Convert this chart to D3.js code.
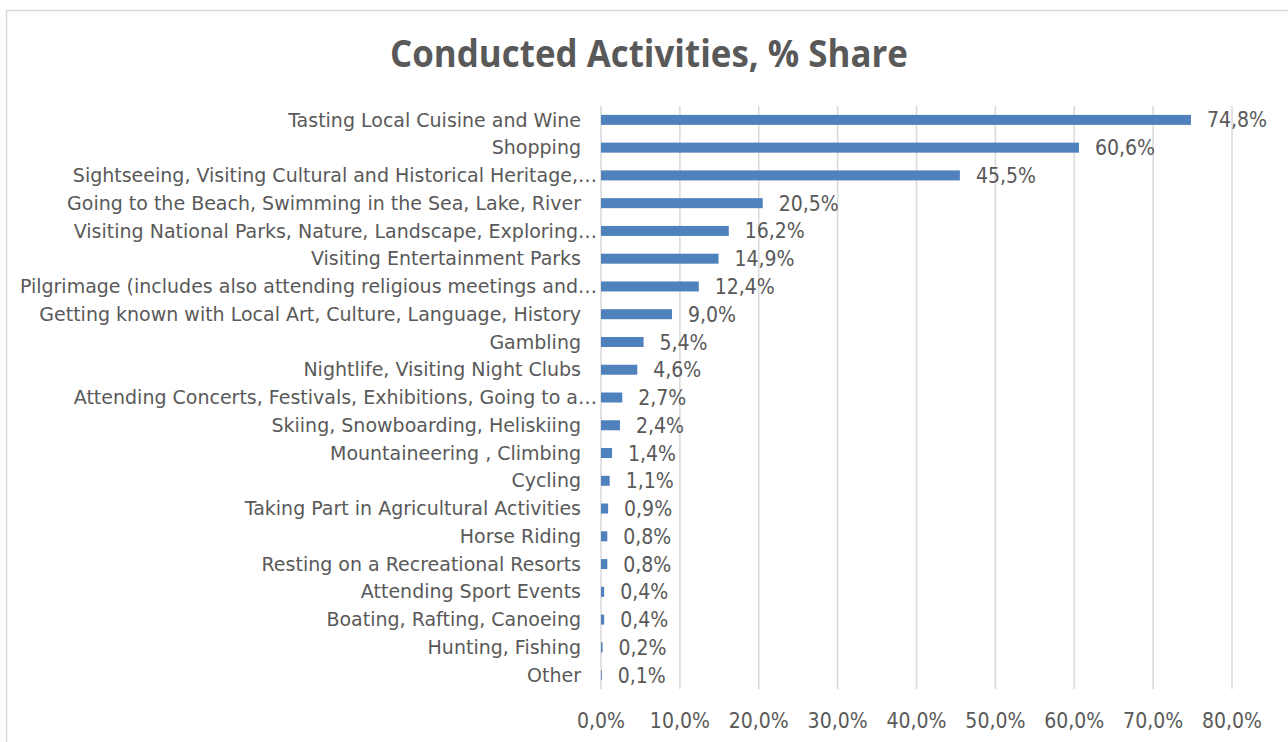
<!DOCTYPE html>
<html>
<head>
<meta charset="utf-8">
<script src="https://cdn.jsdelivr.net/npm/d3@7"></script>
<style>
  body { margin: 0; background: #fff; }
  svg text { fill: #595959; }
  .num { font-stretch: condensed; }
</style>
</head>
<body>
<div id="chart"></div>
<script>
var width = 1288, height = 742;

// data
var categories = [
  "Tasting Local Cuisine and Wine",
  "Shopping",
  "Sightseeing, Visiting Cultural and Historical Heritage,…",
  "Going to the Beach, Swimming in the Sea, Lake, River",
  "Visiting National Parks, Nature, Landscape, Exploring…",
  "Visiting Entertainment Parks",
  "Pilgrimage (includes also attending religious meetings and…",
  "Getting known with Local Art, Culture, Language, History",
  "Gambling",
  "Nightlife, Visiting Night Clubs",
  "Attending Concerts, Festivals, Exhibitions, Going to a…",
  "Skiing, Snowboarding, Heliskiing",
  "Mountaineering , Climbing",
  "Cycling",
  "Taking Part in Agricultural Activities",
  "Horse Riding",
  "Resting on a Recreational Resorts",
  "Attending Sport Events",
  "Boating, Rafting, Canoeing",
  "Hunting, Fishing",
  "Other"
];
var shares = [74.8, 60.6, 45.5, 20.5, 16.2, 14.9, 12.4, 9.0, 5.4, 4.6, 2.7, 2.4, 1.4, 1.1, 0.9, 0.8, 0.8, 0.4, 0.4, 0.2, 0.1];
var xTicks = [0, 10, 20, 30, 40, 50, 60, 70, 80];

var locale = d3.formatLocale({decimal: ",", thousands: ".", grouping: [3], currency: ["", ""]});
var fmt = locale.format(".1f");

var margin = {left: 601, right: 56, top: 106, bottom: 53};
var font = "DejaVu Sans";

var svg = d3.select("#chart").append("svg")
  .attr("width", width)
  .attr("height", height);

// chart border
svg.append("rect")
  .attr("x", 6.5).attr("y", 10.5)
  .attr("width", width).attr("height", height)
  .attr("fill", "none")
  .attr("stroke", "#d9d9d9")
  .attr("stroke-width", 1.5);

svg.append("text")
  .attr("x", 649).attr("y", 67)
  .attr("text-anchor", "middle")
  .attr("font-family", "Open Sans")
  .attr("font-weight", "bold")
  .attr("font-size", 38)
  .attr("textLength", 518)
  .attr("lengthAdjust", "spacingAndGlyphs")
  .text("Conducted Activities, % Share");

var x = d3.scaleLinear()
  .domain([0, 80])
  .range([margin.left, width - margin.right]);

var y = d3.scaleBand()
  .domain(categories)
  .range([margin.top, height - margin.bottom])
  .paddingInner(0.64)
  .paddingOuter(0.32);

// gridlines
svg.append("g").selectAll("line")
  .data(xTicks)
  .enter().append("line")
  .attr("x1", function(d) { return x(d); })
  .attr("x2", function(d) { return x(d); })
  .attr("y1", margin.top)
  .attr("y2", height - margin.bottom)
  .attr("stroke", "#d9d9d9")
  .attr("stroke-width", 1.5);

// bars
svg.append("g").selectAll("rect")
  .data(shares)
  .enter().append("rect")
  .attr("x", x(0))
  .attr("y", function(d, i) { return y(categories[i]); })
  .attr("width", function(d) { return x(d) - x(0); })
  .attr("height", y.bandwidth())
  .attr("fill", "#4f81bd");

// category labels
svg.append("g").selectAll("text")
  .data(categories)
  .enter().append("text")
  .attr("x", function(d) { return d.slice(-1) == "…" ? 597 : 581; })
  .attr("y", function(d) { return y(d) + y.bandwidth() / 2; })
  .attr("dy", "0.35em")
  .attr("text-anchor", "end")
  .attr("font-family", font)
  .attr("font-size", 19)
  .text(function(d) { return d; });

// value labels
svg.append("g").selectAll("text")
  .data(shares)
  .enter().append("text")
  .attr("class", "num")
  .attr("x", function(d) { return x(d) + 16; })
  .attr("y", function(d, i) { return y(categories[i]) + y.bandwidth() / 2; })
  .attr("dy", "0.36em")
  .attr("font-family", font)
  .attr("font-size", 21)
  .text(function(d) { return fmt(d) + "%"; });

// x axis tick labels
svg.append("g").selectAll("text")
  .data(xTicks)
  .enter().append("text")
  .attr("class", "num")
  .attr("x", function(d) { return x(d); })
  .attr("y", 720)
  .attr("dy", "0.36em")
  .attr("text-anchor", "middle")
  .attr("font-family", font)
  .attr("font-size", 21)
  .text(function(d) { return fmt(d) + "%"; });
</script>
</body>
</html>
